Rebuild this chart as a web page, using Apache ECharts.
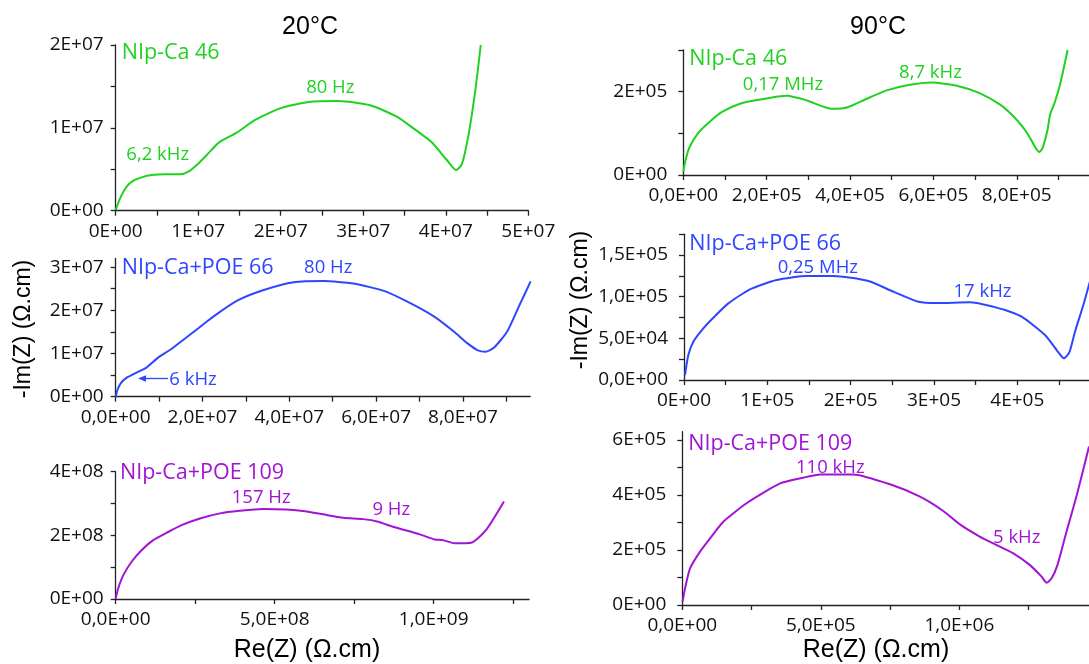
<!DOCTYPE html>
<html><head><meta charset="utf-8">
<script src="https://cdn.jsdelivr.net/npm/echarts@6/dist/echarts.min.js"></script>
<style>html,body{margin:0;padding:0;background:#fff}#c{width:1089px;height:664px}</style>
</head><body><div id="c"></div>
<script>
// ---------- DATA ----------
// Panel 1: 20°C, NIp-Ca 46
const p1Re = [0, 0.053e7, 0.133e7, 0.214e7, 0.315e7, 0.436e7, 0.598e7, 0.78e7, 0.881e7, 0.982e7, 1.103e7, 1.253e7, 1.467e7, 1.689e7, 1.992e7, 2.335e7, 2.699e7, 3.083e7, 3.406e7, 3.608e7, 3.83e7, 4.012e7, 4.125e7, 4.194e7, 4.275e7, 4.356e7, 4.424e7];
const p1Im = [0.01e7, 0.149e7, 0.29e7, 0.362e7, 0.402e7, 0.43e7, 0.439e7, 0.439e7, 0.471e7, 0.551e7, 0.672e7, 0.825e7, 0.942e7, 1.095e7, 1.235e7, 1.312e7, 1.324e7, 1.272e7, 1.135e7, 0.994e7, 0.825e7, 0.612e7, 0.491e7, 0.559e7, 0.913e7, 1.437e7, 2.0e7];
// Panel 2: 90°C, NIp-Ca 46
const p2Re = [0, 0.064e5, 0.16e5, 0.36e5, 0.6e5, 0.92e5, 1.36e5, 1.84e5, 2.48e5, 2.96e5, 3.56e5, 3.84e5, 4.08e5, 4.4e5, 4.88e5, 5.4e5, 5.96e5, 6.56e5, 7.12e5, 7.6e5, 7.92e5, 8.16e5, 8.32e5, 8.44e5, 8.54e5, 8.62e5, 8.74e5, 8.8e5, 8.92e5, 9.04e5, 9.22e5];
const p2Im = [0.08e5, 0.40e5, 0.69e5, 1.01e5, 1.25e5, 1.51e5, 1.71e5, 1.81e5, 1.9e5, 1.79e5, 1.59e5, 1.6e5, 1.68e5, 1.83e5, 2.03e5, 2.16e5, 2.22e5, 2.14e5, 1.96e5, 1.69e5, 1.41e5, 1.13e5, 0.89e5, 0.67e5, 0.55e5, 0.65e5, 1.09e5, 1.45e5, 1.77e5, 2.18e5, 3.0e5];
// Panel 3: 20°C, NIp-Ca+POE 66
const p3Re = [0, 0.04e7, 0.115e7, 0.254e7, 0.446e7, 0.715e7, 0.985e7, 1.29e7, 1.68e7, 2.1e7, 2.41e7, 2.83e7, 3.41e7, 4.1e7, 4.79e7, 5.48e7, 6.18e7, 6.72e7, 7.33e7, 7.79e7, 8.1e7, 8.33e7, 8.52e7, 8.72e7, 9.02e7, 9.29e7, 9.56e7];
const p3Im = [0, 0.155e7, 0.31e7, 0.44e7, 0.54e7, 0.68e7, 0.91e7, 1.11e7, 1.41e7, 1.74e7, 1.97e7, 2.24e7, 2.47e7, 2.65e7, 2.68e7, 2.62e7, 2.45e7, 2.2e7, 1.86e7, 1.51e7, 1.24e7, 1.08e7, 1.04e7, 1.14e7, 1.51e7, 2.09e7, 2.67e7];
// Panel 4: 90°C, NIp-Ca+POE 66
const p4Re = [0.012e5, 0.052e5, 0.112e5, 0.232e5, 0.352e5, 0.532e5, 0.792e5, 1.112e5, 1.472e5, 1.792e5, 2.212e5, 2.512e5, 2.812e5, 3.032e5, 3.432e5, 3.852e5, 4.052e5, 4.332e5, 4.472e5, 4.56e5, 4.624e5, 4.692e5, 4.792e5, 4.87e5];
const p4Im = [0.06e5, 0.3e5, 0.46e5, 0.62e5, 0.748e5, 0.92e5, 1.088e5, 1.2e5, 1.248e5, 1.248e5, 1.188e5, 1.06e5, 0.94e5, 0.924e5, 0.932e5, 0.84e5, 0.76e5, 0.54e5, 0.36e5, 0.26e5, 0.332e5, 0.58e5, 0.9e5, 1.18e5];
// Panel 5: 20°C, NIp-Ca+POE 109
const p5Re = [0, 0.008e9, 0.024e9, 0.05e9, 0.082e9, 0.118e9, 0.16e9, 0.207e9, 0.265e9, 0.328e9, 0.39e9, 0.464e9, 0.537e9, 0.595e9, 0.652e9, 0.715e9, 0.778e9, 0.825e9, 0.872e9, 0.956e9, 1.003e9, 1.029e9, 1.066e9, 1.118e9, 1.165e9, 1.221e9];
const p5Im = [0.02e8, 0.34e8, 0.75e8, 1.17e8, 1.54e8, 1.85e8, 2.08e8, 2.32e8, 2.53e8, 2.69e8, 2.77e8, 2.83e8, 2.81e8, 2.76e8, 2.66e8, 2.55e8, 2.51e8, 2.43e8, 2.27e8, 2.03e8, 1.87e8, 1.85e8, 1.75e8, 1.77e8, 2.17e8, 3.06e8];
// Panel 6: 90°C, NIp-Ca+POE 109
const p6Re = [0.001e6, 0.01e6, 0.028e6, 0.064e6, 0.1e6, 0.148e6, 0.232e6, 0.353e6, 0.437e6, 0.497e6, 0.617e6, 0.75e6, 0.858e6, 0.942e6, 1.002e6, 1.075e6, 1.135e6, 1.195e6, 1.255e6, 1.297e6, 1.315e6, 1.333e6, 1.354e6, 1.387e6, 1.424e6, 1.468e6];
const p6Im = [0.12e5, 0.61e5, 1.33e5, 1.94e5, 2.42e5, 3.03e5, 3.7e5, 4.42e5, 4.63e5, 4.75e5, 4.75e5, 4.39e5, 3.94e5, 3.42e5, 2.93e5, 2.48e5, 2.18e5, 1.88e5, 1.45e5, 1.03e5, 0.81e5, 0.97e5, 1.45e5, 2.67e5, 4.0e5, 5.76e5];

// Tick values & labels
const p1XTicks = [0, 1e7, 2e7, 3e7, 4e7, 5e7];
const p1XLabels = ['0E+00', '1E+07', '2E+07', '3E+07', '4E+07', '5E+07'];
const p1XMinor = [0.5e7, 1.5e7, 2.5e7, 3.5e7, 4.5e7];
const p1YTicks = [0, 1e7, 2e7];
const p1YLabels = ['0E+00', '1E+07', '2E+07'];
const p1YMinor = [0.5e7, 1.5e7];

const p2XTicks = [0, 2e5, 4e5, 6e5, 8e5];
const p2XLabels = ['0,0E+00', '2,0E+05', '4,0E+05', '6,0E+05', '8,0E+05'];
const p2XMinor = [1e5, 3e5, 5e5, 7e5, 9e5];
const p2YTicks = [0, 2e5];
const p2YLabels = ['0E+00', '2E+05'];
const p2YMinor = [1e5, 3e5];

const p3XTicks = [0, 2e7, 4e7, 6e7, 8e7];
const p3XLabels = ['0,0E+00', '2,0E+07', '4,0E+07', '6,0E+07', '8,0E+07'];
const p3XMinor = [1e7, 3e7, 5e7, 7e7, 9e7];
const p3YTicks = [0, 1e7, 2e7, 3e7];
const p3YLabels = ['0E+00', '1E+07', '2E+07', '3E+07'];
const p3YMinor = [0.5e7, 1.5e7, 2.5e7];

const p4XTicks = [0, 1e5, 2e5, 3e5, 4e5];
const p4XLabels = ['0E+00', '1E+05', '2E+05', '3E+05', '4E+05'];
const p4XMinor = [0.5e5, 1.5e5, 2.5e5, 3.5e5, 4.5e5];
const p4YTicks = [0, 5e4, 1e5, 1.5e5];
const p4YLabels = ['0,0E+00', '5,0E+04', '1,0E+05', '1,5E+05'];
const p4YMinor = [2.5e4, 7.5e4, 1.25e5, 1.75e5];

const p5XTicks = [0, 5e8, 1e9];
const p5XLabels = ['0,0E+00', '5,0E+08', '1,0E+09'];
const p5XMinor = [2.5e8, 7.5e8, 1.25e9];
const p5YTicks = [0, 2e8, 4e8];
const p5YLabels = ['0E+00', '2E+08', '4E+08'];
const p5YMinor = [1e8, 3e8];

const p6XTicks = [0, 5e5, 1e6];
const p6XLabels = ['0,0E+00', '5,0E+05', '1,0E+06'];
const p6XMinor = [2.5e5, 7.5e5, 1.25e6];
const p6YTicks = [0, 2e5, 4e5, 6e5];
const p6YLabels = ['0E+00', '2E+05', '4E+05', '6E+05'];
const p6YMinor = [1e5, 3e5, 5e5];

const colGreen = '#1fd21f', colBlue = '#2e46ff', colPurple = '#a114d4';

// ---------- BUILD ----------
const zip = (a, b) => a.map((v, i) => [v, b[i]]);
const AX = '#222';
const TICKFONT = 'Open Sans';

function mkAxis(gi, min, max, ticks, labels, minors, margin) {
  return {
    type: 'value', gridIndex: gi, min: min, max: max,
    axisLine: { show: true, onZero: false, lineStyle: { color: AX, width: 1.3 } },
    axisTick: { show: true, inside: false, length: 5, customValues: ticks.concat(minors), lineStyle: { color: AX, width: 1.3 } },
    minorTick: { show: false },
    splitLine: { show: false },
    axisLabel: {
      show: true, customValues: ticks, margin: margin,
      color: '#111', fontFamily: TICKFONT, fontSize: 19,
      formatter: function (v) {
        let best = 0, bd = Infinity;
        ticks.forEach((t, i) => { const d = Math.abs(t - v); if (d < bd) { bd = d; best = i; } });
        return labels[best];
      }
    }
  };
}

const grids = [
  { left: 115.7, top: 45, width: 412.6, height: 165.7 },
  { left: 683.3, top: 50, width: 406, height: 125 },
  { left: 115.7, top: 258.5, width: 414.5, height: 138.2 },
  { left: 684, top: 234.2, width: 405, height: 145.8 },
  { left: 115.7, top: 471.7, width: 413.4, height: 127.3 },
  { left: 682.3, top: 431.75, width: 406.7, height: 173.25 }
].map(g => Object.assign({ containLabel: false, outerBoundsMode: 'none' }, g));

const xAxes = [
  mkAxis(0, 0, 5e7, p1XTicks, p1XLabels, p1XMinor, 11),
  mkAxis(1, 0, 9.74e5, p2XTicks, p2XLabels, p2XMinor, 11),
  mkAxis(2, 0, 9.55e7, p3XTicks, p3XLabels, p3XMinor, 11),
  mkAxis(3, 0, 4.86e5, p4XTicks, p4XLabels, p4XMinor, 11),
  mkAxis(4, 0, 1.3e9, p5XTicks, p5XLabels, p5XMinor, 11),
  mkAxis(5, 0, 1.468e6, p6XTicks, p6XLabels, p6XMinor, 11)
];
const yAxes = [
  mkAxis(0, 0, 2e7, p1YTicks, p1YLabels, p1YMinor, 12),
  mkAxis(1, 0, 3e5, p2YTicks, p2YLabels, p2YMinor, 16),
  mkAxis(2, 0, 3.2e7, p3YTicks, p3YLabels, p3YMinor, 12),
  mkAxis(3, 0, 1.75e5, p4YTicks, p4YLabels, p4YMinor, 16),
  mkAxis(4, 0, 4e8, p5YTicks, p5YLabels, p5YMinor, 12),
  mkAxis(5, 0, 6.3e5, p6YTicks, p6YLabels, p6YMinor, 16)
];

const seriesDefs = [
  [p1Re, p1Im, colGreen], [p2Re, p2Im, colGreen],
  [p3Re, p3Im, colBlue], [p4Re, p4Im, colBlue],
  [p5Re, p5Im, colPurple], [p6Re, p6Im, colPurple]
];
const series = seriesDefs.map((d, i) => ({
  type: 'line', xAxisIndex: i, yAxisIndex: i, data: zip(d[0], d[1]),
  showSymbol: false, symbol: 'none', smooth: 0.2, clip: true, silent: true,
  lineStyle: { color: d[2], width: 2 }, z: 3
}));

function txt(text, x, y, color, size, align, family) {
  return { type: 'text', x: x, y: y, z: 10, silent: true,
    style: { text: text, fill: color, font: size + 'px "' + (family || 'Open Sans') + '"', align: align || 'center', verticalAlign: 'middle' } };
}
const BIG = 'Liberation Sans';
const graphic = [
  txt('20°C', 310, 27, '#000', 25, 'center', BIG),
  txt('90°C', 878, 27, '#000', 25, 'center', BIG),
  txt('Re(Z) (Ω.cm)', 307, 650, '#000', 25, 'center', BIG),
  txt('Re(Z) (Ω.cm)', 876, 650, '#000', 25, 'center', BIG),
  Object.assign(txt('-Im(Z) (Ω.cm)', 24, 329, '#000', 23, 'center', BIG), { rotation: Math.PI / 2 }),
  Object.assign(txt('-Im(Z) (Ω.cm)', 581, 300, '#000', 23, 'center', BIG), { rotation: Math.PI / 2 }),
  // panel annotations
  txt('NIp-Ca 46', 121.7, 53.3, colGreen, 21.5, 'left'),
  txt('80 Hz', 330.3, 87.3, colGreen, 18.5),
  txt('6,2 kHz', 157.7, 155, colGreen, 18.5),
  txt('NIp-Ca 46', 689.3, 59, colGreen, 21.5, 'left'),
  txt('0,17 MHz', 783, 85, colGreen, 18.5),
  txt('8,7 kHz', 930.5, 72.3, colGreen, 18.5),
  txt('NIp-Ca+POE 66', 121.7, 268.3, colBlue, 21.5, 'left'),
  txt('80 Hz', 328.2, 267.3, colBlue, 18.5),
  txt('6 kHz', 169.3, 379.3, colBlue, 18.5, 'left'),
  { type: 'line', silent: true, z: 10, shape: { x1: 168, y1: 378.5, x2: 144, y2: 378.5 }, style: { stroke: colBlue, lineWidth: 1.3 } },
  { type: 'polygon', silent: true, z: 10, shape: { points: [[138, 378.5], [146, 375.3], [146, 381.7]] }, style: { fill: colBlue } },
  txt('NIp-Ca+POE 66', 689.3, 244, colBlue, 21.5, 'left'),
  txt('0,25 MHz', 817.8, 267.7, colBlue, 18.5),
  txt('17 kHz', 982.5, 291.7, colBlue, 18.5),
  txt('NIp-Ca+POE 109', 120, 473.3, colPurple, 21.5, 'left'),
  txt('157 Hz', 261.2, 497.7, colPurple, 18.5),
  txt('9 Hz', 391.3, 510, colPurple, 18.5),
  txt('NIp-Ca+POE 109', 688.3, 444, colPurple, 21.5, 'left'),
  txt('110 kHz', 830.3, 467.7, colPurple, 18.5),
  txt('5 kHz', 1016.7, 537.7, colPurple, 18.5)
];

const chart = echarts.init(document.getElementById('c'), null, { renderer: 'canvas' });
chart.setOption({
  animation: false,
  backgroundColor: '#fff',
  grid: grids,
  xAxis: xAxes,
  yAxis: yAxes,
  series: series,
  graphic: graphic
});
</script>
</body></html>
